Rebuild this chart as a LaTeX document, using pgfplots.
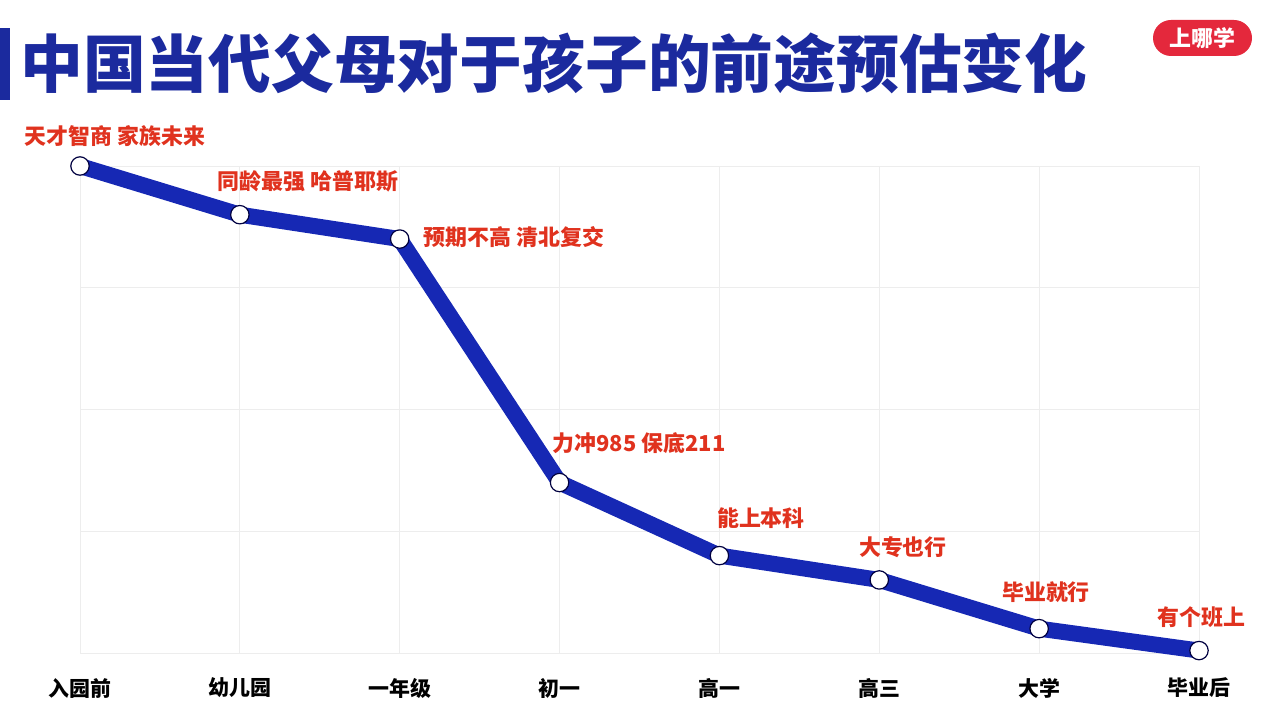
\documentclass[border=0pt]{standalone}
\usepackage{fontspec}
\usepackage{pgfplots}
\pgfplotsset{compat=1.18}
\setmainfont{Noto Sans CJK SC}
\definecolor{lineblue}{HTML}{1628B4}
\definecolor{titleblue}{HTML}{1B2A9E}
\definecolor{labred}{HTML}{E0321E}
\definecolor{logored}{HTML}{E4283C}

\begin{document}
\begin{tikzpicture}[lab/.style={text=labred, font=\fontsize{11}{12}\selectfont\bfseries, inner sep=0pt}]
\useasboundingbox (0bp,0bp) rectangle (640bp,360bp);
% title bar and title
\fill[titleblue] (0bp,310bp) rectangle (5bp,346bp);
\node[anchor=west, inner sep=0pt, text=titleblue, font=\fontsize{31.5}{34}\selectfont\bfseries]
  at (10bp,328.5bp) {中国当代父母对于孩子的前途预估变化};
% logo
\fill[logored, rounded corners=9bp] (576.5bp,332bp) rectangle (626bp,350bp);
\node[text=white, font=\fontsize{11}{12}\selectfont\bfseries] at (601.25bp,341bp) {上哪学};

\begin{axis}[
    at={(40bp,33.5bp)}, anchor=south west,
    scale only axis,
    width=559.5bp, height=243.5bp,
    xmin=0, xmax=7, ymin=0, ymax=4,
    xtick={0,...,7},
    xticklabels={入园前,幼儿园,一年级,初一,高一,高三,大学,毕业后},
    ytick={0,...,4},
    yticklabels={},
    grid=major,
    major grid style={color=black!7, line width=0.5bp},
    axis line style={draw=none},
    tick style={draw=none},
    clip=false,
    xticklabel style={font=\fontsize{10.5}{12}\selectfont\bfseries, text=black, anchor=center, yshift=-17.5bp},
]
\addplot[lineblue, line width=8bp, line join=round, mark=*, mark size=4.6bp,
    mark options={fill=white, draw=black!75!blue, line width=0.6bp, solid}] coordinates {
    (0,4.00) (1,3.60) (2,3.40) (3,1.40) (4,0.80) (5,0.60) (6,0.20) (7,0.02)
};

\node[lab] at (axis cs:0.219,4.246) {天才智商 家族未来};
\node[lab] at (axis cs:1.426,3.877) {同龄最强 哈普耶斯};
\node[lab] at (axis cs:2.715,3.417) {预期不高 清北复交};
\node[lab] at (axis cs:3.497,1.725) {力冲985 保底211};
\node[lab] at (axis cs:4.260,1.109) {能上本科};
\node[lab] at (axis cs:5.148,0.871) {大专也行};
\node[lab] at (axis cs:6.043,0.501) {毕业就行};
\node[lab] at (axis cs:7.013,0.296) {有个班上};
\end{axis}
\end{tikzpicture}
\end{document}
